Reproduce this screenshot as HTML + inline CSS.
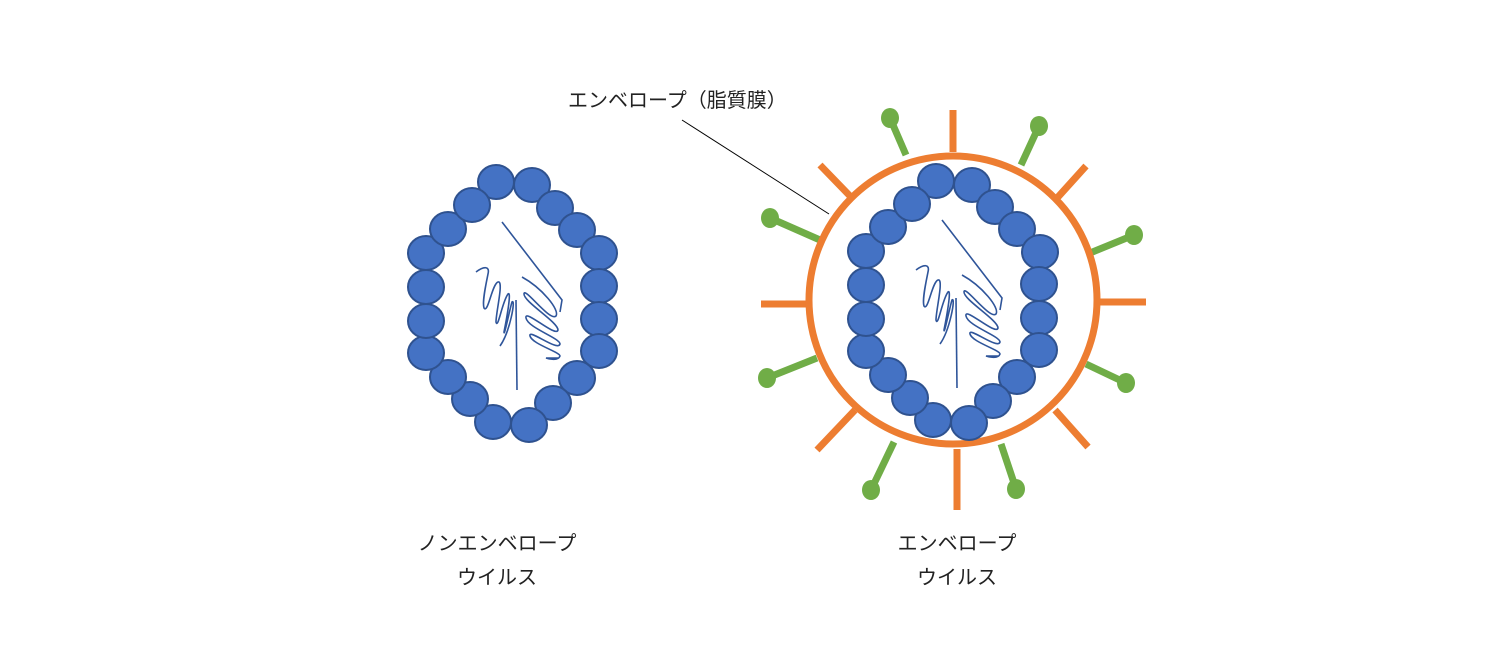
<!DOCTYPE html>
<html><head><meta charset="utf-8"><style>
html,body{margin:0;padding:0;background:#fff;}
svg{display:block;}
text{font-family:"Liberation Sans","Noto Sans CJK JP",sans-serif;font-size:20px;fill:#222;}
</style></head><body>
<svg width="1487" height="666" viewBox="0 0 1487 666" xmlns="http://www.w3.org/2000/svg">
<defs>
<g id="gen" fill="none" stroke="#2f559a" stroke-width="1.6">
<path d="M0 0 L60 78 L58 90"/>
<path d="M-26 50 C-18 44 -12 44 -14 52 C-16 62 -20 80 -18 86 C-14 92 -10 62 -4 60 C2 58 -6 90 -6 100 C-4 108 0 80 6 72 C10 68 4 100 2 110 C2 116 8 86 10 80 C14 76 8 110 -2 124"/>
<path d="M14 78 L15 168"/>
<path d="M20 55 C40 66 58 88 54 94 C48 100 22 64 22 72 C22 80 56 100 56 108 C54 116 22 86 24 96 C26 106 58 116 58 122 C56 130 26 106 28 114 C30 122 58 130 58 134 C56 140 44 136 44 136 L56 136"/>
</g>
<ellipse id="b" rx="18" ry="17" fill="#4472c4" stroke="#2f528f" stroke-width="2"/>
</defs>

<g>
<use href="#b" x="496" y="182"/><use href="#b" x="532" y="185"/><use href="#b" x="555" y="208"/><use href="#b" x="577" y="230"/><use href="#b" x="599" y="253"/><use href="#b" x="599" y="286"/><use href="#b" x="599" y="319"/><use href="#b" x="599" y="351"/><use href="#b" x="577" y="378"/><use href="#b" x="553" y="403"/><use href="#b" x="529" y="425"/><use href="#b" x="493" y="422"/><use href="#b" x="470" y="399"/><use href="#b" x="448" y="377"/><use href="#b" x="426" y="353"/><use href="#b" x="426" y="321"/><use href="#b" x="426" y="287"/><use href="#b" x="426" y="253"/><use href="#b" x="448" y="229"/><use href="#b" x="472" y="205"/>
<use href="#gen" x="502" y="222"/>
</g>

<g stroke="#70ad47" stroke-width="7" fill="#70ad47">
<line x1="890" y1="118" x2="906" y2="155"/><ellipse cx="890" cy="118" rx="9" ry="10" stroke="none"/>
<line x1="1039" y1="126" x2="1021" y2="165"/><ellipse cx="1039" cy="126" rx="9" ry="10" stroke="none"/>
<line x1="770" y1="218" x2="820" y2="240"/><ellipse cx="770" cy="218" rx="9" ry="10" stroke="none"/>
<line x1="1134" y1="235" x2="1090" y2="253"/><ellipse cx="1134" cy="235" rx="9" ry="10" stroke="none"/>
<line x1="767" y1="378" x2="817" y2="358"/><ellipse cx="767" cy="378" rx="9" ry="10" stroke="none"/>
<line x1="1126" y1="383" x2="1086" y2="364"/><ellipse cx="1126" cy="383" rx="9" ry="10" stroke="none"/>
<line x1="871" y1="490" x2="894" y2="442"/><ellipse cx="871" cy="490" rx="9" ry="10" stroke="none"/>
<line x1="1016" y1="489" x2="1001" y2="444"/><ellipse cx="1016" cy="489" rx="9" ry="10" stroke="none"/>
</g>
<g stroke="#ed7d31" stroke-width="7">
<line x1="953" y1="110" x2="953" y2="152"/>
<line x1="1094" y1="302" x2="1146" y2="302"/>
<line x1="957" y1="449" x2="957" y2="510"/>
<line x1="761" y1="304" x2="812" y2="304"/>
<line x1="1058" y1="197" x2="1086" y2="166"/>
<line x1="820" y1="165" x2="850" y2="196"/>
<line x1="1055" y1="410" x2="1088" y2="447"/>
<line x1="817" y1="450" x2="855" y2="410"/>
</g>
<circle cx="953" cy="300" r="144" fill="#fff" stroke="#ed7d31" stroke-width="7"/>
<g>
<use href="#b" x="936" y="181"/><use href="#b" x="972" y="185"/><use href="#b" x="995" y="207"/><use href="#b" x="1017" y="229"/><use href="#b" x="1040" y="252"/><use href="#b" x="1039" y="284"/><use href="#b" x="1039" y="318"/><use href="#b" x="1039" y="350"/><use href="#b" x="1017" y="377"/><use href="#b" x="993" y="401"/><use href="#b" x="969" y="423"/><use href="#b" x="933" y="420"/><use href="#b" x="910" y="398"/><use href="#b" x="888" y="375"/><use href="#b" x="866" y="351"/><use href="#b" x="866" y="319"/><use href="#b" x="866" y="285"/><use href="#b" x="866" y="251"/><use href="#b" x="888" y="227"/><use href="#b" x="912" y="204"/>
<use href="#gen" x="942" y="220"/>
</g>

<line x1="682" y1="120" x2="829" y2="214" stroke="#000" stroke-width="1"/>
<text x="568" y="107">エンベロープ（脂質膜）</text>
<text x="497" y="550" text-anchor="middle">ノンエンベロープ</text>
<text x="497" y="584" text-anchor="middle">ウイルス</text>
<text x="957" y="550" text-anchor="middle">エンベロープ</text>
<text x="957" y="584" text-anchor="middle">ウイルス</text>
</svg>
</body></html>
